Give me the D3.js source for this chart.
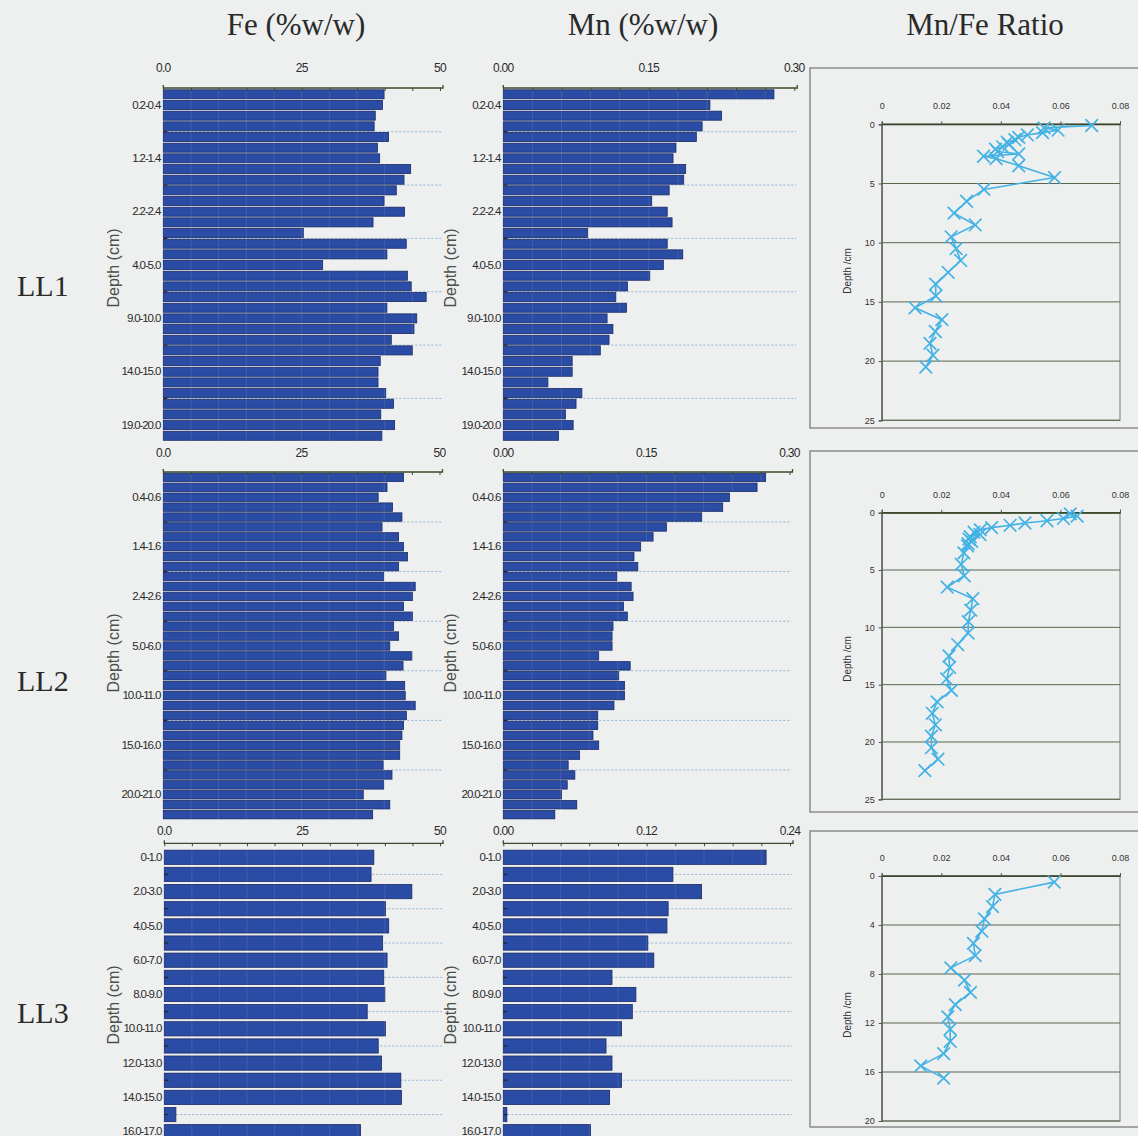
<!DOCTYPE html>
<html><head><meta charset="utf-8">
<script src="https://cdn.jsdelivr.net/npm/d3@7"></script>
<style>
html,body{margin:0;padding:0;background:#eef0f0;}
svg{display:block;}
</style></head><body>
<svg id="chart" width="1138" height="1136"></svg>
<script>
// ---------- DATA ----------
const titles = ["Fe (%w/w)", "Mn (%w/w)", "Mn/Fe Ratio"];
const rowNames = ["LL1", "LL2", "LL3"];

const ll1Cats = ["0.0-0.2","0.2-0.4","0.4-0.6","0.6-0.8","0.8-1.0","1.0-1.2","1.2-1.4","1.4-1.6","1.6-1.8","1.8-2.0","2.0-2.2","2.2-2.4","2.4-2.6","2.6-2.8","2.8-3.0","3.0-4.0","4.0-5.0","5.0-6.0","6.0-7.0","7.0-8.0","8.0-9.0","9.0-10.0","10.0-11.0","11.0-12.0","12.0-13.0","13.0-14.0","14.0-15.0","15.0-16.0","16.0-17.0","17.0-18.0","18.0-19.0","19.0-20.0","20.0-21.0"];
const ll1Fe = [39.9,39.6,38.3,38.1,40.7,38.7,39.1,44.7,43.5,42.1,39.9,43.6,37.9,25.3,43.9,40.4,28.8,44.1,44.8,47.5,40.4,45.8,45.3,41.2,45.0,39.2,38.8,38.8,40.2,41.6,39.3,41.8,39.5];
const ll1Mn = [0.279,0.213,0.225,0.205,0.199,0.178,0.175,0.188,0.186,0.171,0.153,0.169,0.174,0.087,0.169,0.185,0.165,0.151,0.128,0.116,0.127,0.107,0.113,0.109,0.100,0.071,0.071,0.046,0.081,0.075,0.064,0.072,0.057];
const ll1Depth = [0.1,0.3,0.5,0.7,0.9,1.1,1.3,1.5,1.7,1.9,2.1,2.3,2.5,2.7,2.9,3.5,4.5,5.5,6.5,7.5,8.5,9.5,10.5,11.5,12.5,13.5,14.5,15.5,16.5,17.5,18.5,19.5,20.5];
const ll1Ratio = [0.0705,0.0545,0.0592,0.0540,0.0489,0.0460,0.0447,0.0421,0.0427,0.0406,0.0382,0.0389,0.0460,0.0342,0.0384,0.0460,0.0580,0.0343,0.0285,0.0243,0.0314,0.0233,0.0250,0.0265,0.0223,0.0181,0.0182,0.0112,0.0202,0.0180,0.0162,0.0172,0.0148];

const ll2Cats = ["0.0-0.2","0.2-0.4","0.4-0.6","0.6-0.8","0.8-1.0","1.0-1.2","1.2-1.4","1.4-1.6","1.6-1.8","1.8-2.0","2.0-2.2","2.2-2.4","2.4-2.6","2.6-2.8","2.8-3.0","3.0-4.0","4.0-5.0","5.0-6.0","6.0-7.0","7.0-8.0","8.0-9.0","9.0-10.0","10.0-11.0","11.0-12.0","12.0-13.0","13.0-14.0","14.0-15.0","15.0-16.0","16.0-17.0","17.0-18.0","18.0-19.0","19.0-20.0","20.0-21.0","21.0-22.0","22.0-23.0"];
const ll2Fe = [43.5,40.5,38.9,41.5,43.2,39.6,42.6,43.5,44.2,42.6,39.9,45.6,45.1,43.5,45.1,41.7,42.6,41.0,45.0,43.4,40.3,43.7,43.8,45.6,44.0,43.5,43.2,42.8,42.8,39.8,41.4,39.9,36.2,41.0,37.9];
const ll2Mn = [0.275,0.266,0.237,0.230,0.208,0.171,0.157,0.144,0.137,0.141,0.119,0.134,0.136,0.126,0.130,0.115,0.114,0.114,0.100,0.133,0.121,0.127,0.127,0.116,0.099,0.099,0.094,0.100,0.080,0.068,0.075,0.067,0.061,0.077,0.054];
const ll2Depth = [0.1,0.3,0.5,0.7,0.9,1.1,1.3,1.5,1.7,1.9,2.1,2.3,2.5,2.7,2.9,3.5,4.5,5.5,6.5,7.5,8.5,9.5,10.5,11.5,12.5,13.5,14.5,15.5,16.5,17.5,18.5,19.5,20.5,21.5,22.5];
const ll2Ratio = [0.0633,0.0656,0.0610,0.0555,0.0481,0.0431,0.0369,0.0331,0.0310,0.0330,0.0297,0.0293,0.0302,0.0290,0.0288,0.0276,0.0267,0.0277,0.0220,0.0306,0.0299,0.0291,0.0290,0.0255,0.0226,0.0228,0.0218,0.0234,0.0186,0.0170,0.0180,0.0167,0.0167,0.0189,0.0145];

const ll3Cats = ["0-1.0","1.0-2.0","2.0-3.0","3.0-4.0","4.0-5.0","5.0-6.0","6.0-7.0","7.0-8.0","8.0-9.0","9.0-10.0","10.0-11.0","11.0-12.0","12.0-13.0","13.0-14.0","14.0-15.0","15.0-16.0","16.0-17.0"];
const ll3Fe = [38.0,37.5,44.9,40.1,40.7,39.6,40.4,39.8,40.0,36.8,40.1,38.8,39.4,42.9,43.0,2.1,35.6];
const ll3Mn = [0.220,0.142,0.166,0.138,0.137,0.121,0.126,0.091,0.111,0.108,0.099,0.086,0.091,0.099,0.089,0.003,0.073];
const ll3Depth = [0.5,1.5,2.5,3.5,4.5,5.5,6.5,7.5,8.5,9.5,10.5,11.5,12.5,13.5,14.5,15.5,16.5];
const ll3Ratio = [0.0579,0.0380,0.0372,0.0345,0.0336,0.0308,0.0314,0.0232,0.0278,0.0298,0.0247,0.0222,0.0230,0.0230,0.0208,0.0131,0.0208];

const feTicks = [0, 25, 50];
const feTickLabels = ["0.0", "25", "50"];
const mnTicks = [0, 0.15, 0.30];
const mnTickLabels = ["0.00", "0.15", "0.30"];
const mn3Ticks = [0, 0.12, 0.24];
const mn3TickLabels = ["0.00", "0.12", "0.24"];
const ratioXTicks = [0, 0.02, 0.04, 0.06, 0.08];
const ratioYTicks = [0, 5, 10, 15, 20, 25];
const ratio3YTicks = [0, 4, 8, 12, 16, 20];

// ---------- DRAW ----------
const svg = d3.select("#chart");
svg.append("rect").attr("width", 1138).attr("height", 1136).attr("fill", "#eef0f0");

const SANS = "'Liberation Sans',Arial,sans-serif";
const SERIF = "'Liberation Serif','Times New Roman',serif";

const titleX = [296, 643, 985];
svg.selectAll(".title").data(titles).join("text")
  .attr("x", (d, i) => titleX[i]).attr("y", 35)
  .attr("text-anchor", "middle").attr("font-family", SERIF).attr("font-size", 31)
  .attr("fill", "#2a2a2a").text(d => d);

const rowY = [296, 691, 1023];
svg.selectAll(".row").data(rowNames).join("text")
  .attr("x", 17).attr("y", (d, i) => rowY[i])
  .attr("font-family", SERIF).attr("font-size", 30).attr("fill", "#2a2a2a").text(d => d);

function barPanel(o) {
  const g = svg.append("g");
  const x = d3.scaleLinear().domain([0, o.max]).range([o.x0, o.x1]);
  const y = d3.scaleBand().domain(o.cats).range([o.y0, o.y1])
    .paddingInner(o.pad).paddingOuter(o.pad / 2);
  const lab = o.cats.filter((d, i) => i >= o.labelStart && (i - o.labelStart) % o.labelEvery === 0);
  const grid = [];
  for (let k = 0; k < lab.length - 1; k++) grid.push((y(lab[k]) + y(lab[k + 1])) / 2 + y.bandwidth() / 2);

  g.selectAll(".grid").data(grid).join("line")
    .attr("x1", o.x0).attr("x2", o.x1 + 2).attr("y1", d => d).attr("y2", d => d)
    .attr("stroke", "#8fb3d4").attr("stroke-width", 1).attr("stroke-dasharray", "2,2");

  g.selectAll(".bar").data(o.vals).join("rect")
    .attr("x", o.x0).attr("y", (d, i) => y(o.cats[i]))
    .attr("width", d => x(d) - o.x0).attr("height", y.bandwidth())
    .attr("fill", "#2b4ca5").attr("stroke", "#1b2a66").attr("stroke-width", 0.8);

  // faint vertical lines through bars at minor tick positions
  const minor = d3.range(0, 11).map(i => o.max * i / 10);
  g.selectAll(".vl").data(minor.slice(1, 10)).join("line")
    .attr("x1", d => x(d)).attr("x2", d => x(d)).attr("y1", o.y0).attr("y2", o.y1)
    .attr("stroke", "#ffffff").attr("stroke-opacity", 0.1).attr("stroke-width", 1);

  g.selectAll(".lt").data(grid).join("line")
    .attr("x1", o.x0).attr("x2", o.x0 + 4).attr("y1", d => d).attr("y2", d => d)
    .attr("stroke", "#222").attr("stroke-width", 1.2);

  const ax = g.append("g").attr("transform", `translate(0,${o.axisY})`)
    .call(d3.axisTop(x).tickValues(minor).tickSize(-3).tickFormat(""));
  ax.select(".domain").attr("stroke", "#3d4a2c").attr("stroke-width", 1.3)
    .attr("d", `M${o.x0},-3V0H${o.x1 + 3}V-3`);
  ax.selectAll(".tick line").attr("stroke", "#3d4a2c");

  g.selectAll(".tl").data(o.ticks).join("text")
    .attr("x", d => x(d)).attr("y", o.labelY)
    .attr("text-anchor", "middle").attr("font-family", SANS).attr("font-size", 12)
    .attr("letter-spacing", -0.7).attr("fill", "#2a2a2a")
    .text((d, i) => o.tickLabels[i]);

  const ay = g.append("g").attr("transform", `translate(${o.x0 - 1},0)`)
    .call(d3.axisLeft(y).tickValues(lab).tickSize(0).tickPadding(2));
  ay.select(".domain").remove();
  ay.selectAll("text").attr("font-family", SANS).attr("font-size", 11.5)
    .attr("letter-spacing", -1.1).attr("fill", "#2a2a2a");

  g.append("text")
    .attr("transform", `translate(${o.dlx},${o.dly}) rotate(-90)`)
    .attr("text-anchor", "middle").attr("font-family", SANS).attr("font-size", 16)
    .attr("fill", "#4a4f48").text("Depth (cm)");
}

function ratioPanel(o) {
  const g = svg.append("g");
  g.append("rect").attr("x", o.fx0).attr("y", o.fy0).attr("width", 1150 - o.fx0).attr("height", o.fy1 - o.fy0)
    .attr("fill", "none").attr("stroke", "#8a8a8a").attr("stroke-width", 1.5);
  const x = d3.scaleLinear().domain([0, 0.08]).range([881.7, 1120]);
  const y = d3.scaleLinear().domain([0, o.ymax]).range([o.y0, o.y1]);

  g.append("rect").attr("x", x(0)).attr("y", y(0)).attr("width", x(0.08) - x(0)).attr("height", y(o.ymax) - y(0))
    .attr("fill", "none").attr("stroke", "#8a8a8a").attr("stroke-width", 1.2);

  g.selectAll(".hg").data(o.yticks).join("line")
    .attr("x1", x(0)).attr("x2", x(0.08)).attr("y1", d => y(d)).attr("y2", d => y(d))
    .attr("stroke", (d, i) => i === 0 ? "#3d4a2c" : "#5c664f")
    .attr("stroke-width", (d, i) => i === 0 ? 1.5 : 1);

  const ax = g.append("g").attr("transform", `translate(0,${y(0)})`)
    .call(d3.axisTop(x).tickValues(ratioXTicks).tickSize(3).tickPadding(12)
      .tickFormat(d => d === 0 ? "0" : d3.format(".2f")(d)));
  ax.select(".domain").attr("stroke", "#3d4a2c");
  ax.selectAll("text").attr("font-family", SANS).attr("font-size", 9).attr("fill", "#333");
  ax.selectAll(".tick line").attr("stroke", "#555");

  const ay = g.append("g").attr("transform", `translate(${x(0)},0)`)
    .call(d3.axisLeft(y).tickValues(o.yticks).tickSize(3).tickPadding(4).tickFormat(d3.format("d")));
  ay.select(".domain").attr("stroke", "#555").attr("stroke-width", 1.2);
  ay.selectAll("text").attr("font-family", SANS).attr("font-size", 9).attr("fill", "#333");
  ay.selectAll(".tick line").attr("stroke", "#555");

  g.append("text")
    .attr("transform", `translate(${851},${o.dly}) rotate(-90)`)
    .attr("text-anchor", "middle").attr("font-family", SANS).attr("font-size", 10)
    .attr("fill", "#333").text("Depth /cm");

  const pts = o.depth.map((d, i) => [o.ratio[i], d]);
  g.append("path").datum(pts)
    .attr("d", d3.line().x(d => x(d[0])).y(d => y(d[1])))
    .attr("fill", "none").attr("stroke", "#43b2e4").attr("stroke-width", 1.6);
  const s = 6.3;
  g.selectAll(".mk").data(pts).join("path")
    .attr("d", d => {
      const px = x(d[0]), py = y(d[1]);
      return `M${px - s},${py - s}L${px + s},${py + s}M${px - s},${py + s}L${px + s},${py - s}`;
    })
    .attr("stroke", "#43b2e4").attr("stroke-width", 1.7).attr("fill", "none");
}

// LL1
barPanel({cats: ll1Cats, vals: ll1Fe, max: 50, x0: 163.3, x1: 440, y0: 89, y1: 441.1, pad: 0.15,
  labelStart: 1, labelEvery: 5, axisY: 88, labelY: 72, ticks: feTicks, tickLabels: feTickLabels, dlx: 119, dly: 268});
barPanel({cats: ll1Cats, vals: ll1Mn, max: 0.30, x0: 503.3, x1: 794.3, y0: 89, y1: 441.1, pad: 0.15,
  labelStart: 1, labelEvery: 5, axisY: 88, labelY: 72, ticks: mnTicks, tickLabels: mnTickLabels, dlx: 456, dly: 268});
ratioPanel({fx0: 810, fy0: 68, fy1: 428, y0: 124.3, y1: 420.3, ymax: 25, yticks: ratioYTicks,
  depth: ll1Depth, ratio: ll1Ratio, dly: 271});

// LL2
barPanel({cats: ll2Cats, vals: ll2Fe, max: 50, x0: 163.3, x1: 439.5, y0: 472.4, y1: 819.6, pad: 0.15,
  labelStart: 2, labelEvery: 5, axisY: 472, labelY: 457, ticks: feTicks, tickLabels: feTickLabels, dlx: 119, dly: 653});
barPanel({cats: ll2Cats, vals: ll2Mn, max: 0.30, x0: 503.3, x1: 789.5, y0: 472.4, y1: 819.6, pad: 0.15,
  labelStart: 2, labelEvery: 5, axisY: 472, labelY: 457, ticks: mnTicks, tickLabels: mnTickLabels, dlx: 456, dly: 653});
ratioPanel({fx0: 810, fy0: 451, fy1: 812, y0: 512.7, y1: 799.3, ymax: 25, yticks: ratioYTicks,
  depth: ll2Depth, ratio: ll2Ratio, dly: 659});

// LL3
barPanel({cats: ll3Cats, vals: ll3Fe, max: 50, x0: 164.3, x1: 440, y0: 848.7, y1: 1140.3, pad: 0.17,
  labelStart: 0, labelEvery: 2, axisY: 843.3, labelY: 835, ticks: feTicks, tickLabels: feTickLabels, dlx: 119, dly: 1005});
barPanel({cats: ll3Cats, vals: ll3Mn, max: 0.24, x0: 503.3, x1: 790, y0: 848.7, y1: 1140.3, pad: 0.17,
  labelStart: 0, labelEvery: 2, axisY: 843.3, labelY: 835, ticks: mn3Ticks, tickLabels: mn3TickLabels, dlx: 456, dly: 1005});
ratioPanel({fx0: 810, fy0: 831, fy1: 1127, y0: 876, y1: 1121, ymax: 20, yticks: ratio3YTicks,
  depth: ll3Depth, ratio: ll3Ratio, dly: 1015});
</script>
</body></html>
